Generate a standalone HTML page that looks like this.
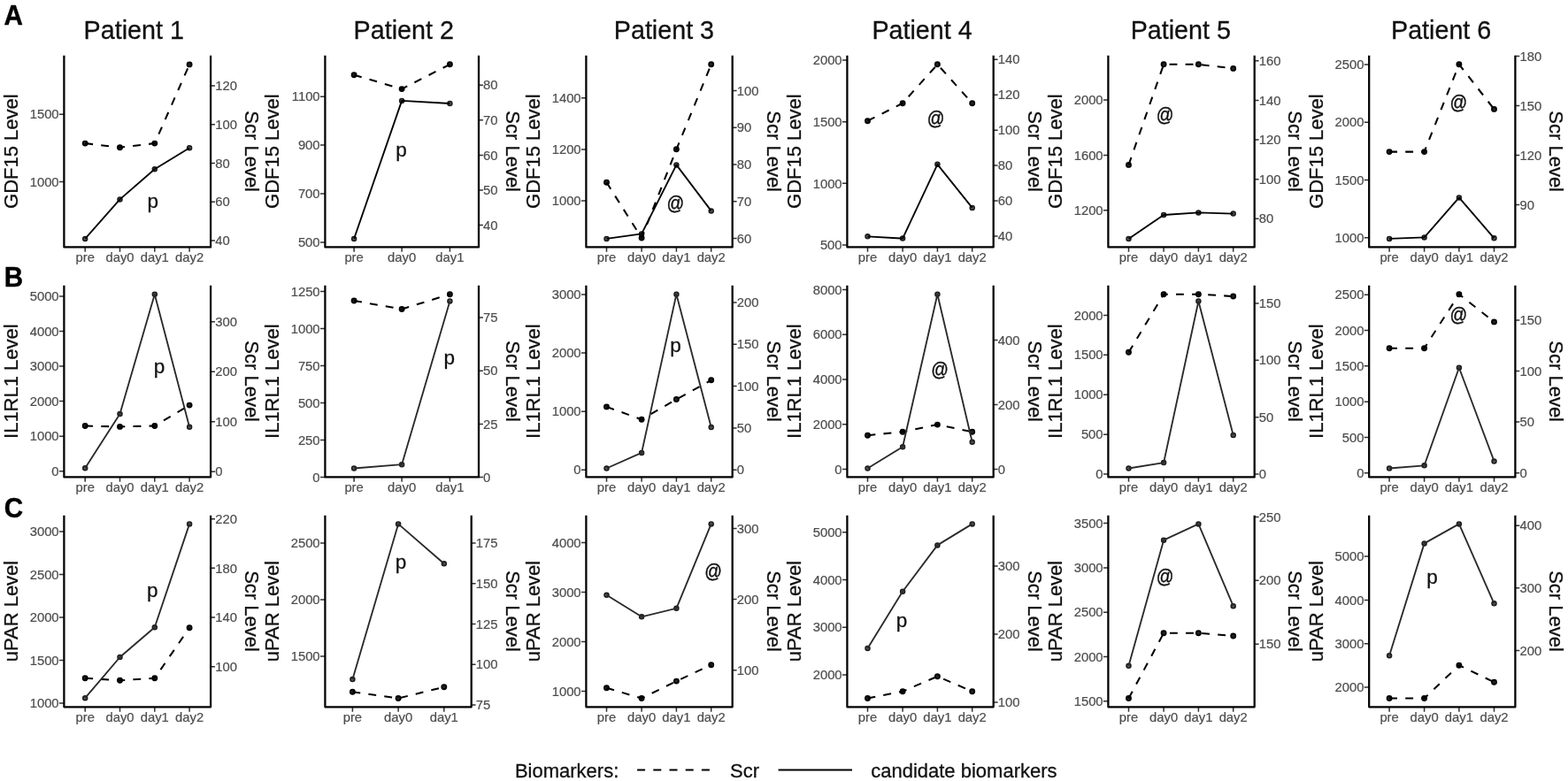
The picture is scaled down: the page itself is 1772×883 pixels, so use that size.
<!DOCTYPE html>
<html lang="en"><head><meta charset="utf-8"><title>Biomarkers figure</title>
<style>html,body{margin:0;padding:0;background:#fff}body{width:1772px;height:883px;overflow:hidden}svg{display:block}text{font-family:"Liberation Sans", Arial, sans-serif}.tk{font-size:14.8px;fill:#4d4d4d;stroke:#4d4d4d;stroke-width:.2}.ti{font-size:28.7px;fill:#111;stroke:#111;stroke-width:.3}.ax{font-size:22.0px;fill:#111;stroke:#111;stroke-width:.3}.pp{font-size:22.5px;fill:#111;stroke:#111;stroke-width:.3}.at{font-size:19.4px;fill:#111;stroke:#111;stroke-width:.4}.lg{font-size:22.0px;fill:#111;stroke:#111;stroke-width:.3}.lb{font-size:29.6px;font-weight:bold;fill:#000;stroke:#000;stroke-width:.4}.axl{stroke:#000;stroke-width:2.25;fill:none;stroke-linejoin:round;stroke-linecap:butt}.tm{stroke:#333;stroke-width:1.5;fill:none}.sl{stroke-width:1.85;fill:none;stroke-linejoin:round}.dl{stroke:#000;stroke-width:2.05;fill:none;stroke-dasharray:8.9 9.2;stroke-linejoin:round}.ps{fill:#5a5a5a;stroke:#1c1c1c;stroke-width:1.6}.pd{fill:#222;stroke:#000;stroke-width:1.7}</style></head><body>
<svg width="1772" height="883" viewBox="0 0 1772 883">
<rect width="1772" height="883" fill="#fff"/>
<text class="lb" transform="translate(4.5 27.5) scale(1 1.04)">A</text>
<text class="lb" transform="translate(4.65 324) scale(1 1.04)">B</text>
<text class="lb" transform="translate(4.7 584.8) scale(1 1.04)">C</text>
<text class="ti" x="94.6" y="44">Patient 1</text>
<text class="ti" x="399.6" y="44">Patient 2</text>
<text class="ti" x="693.8" y="44">Patient 3</text>
<text class="ti" x="985.4" y="44">Patient 4</text>
<text class="ti" x="1277.7" y="44">Patient 5</text>
<text class="ti" x="1572" y="44">Patient 6</text>
<g>
<text class="ax" text-anchor="middle" transform="translate(20.4 171.15) rotate(-90) scale(1 1.03)">GDF15 Level</text>
<text class="ax" text-anchor="middle" transform="translate(276.8 171.15) rotate(90) scale(1 1.03)">Scr Level</text>
<text class="tk" text-anchor="end" x="66.6" y="134.44">1500</text>
<text class="tk" text-anchor="end" x="66.6" y="210.64">1000</text>
<text class="tk" x="243.2" y="102.14">120</text>
<text class="tk" x="243.2" y="145.86">100</text>
<text class="tk" x="243.2" y="189.59">80</text>
<text class="tk" x="243.2" y="233.31">60</text>
<text class="tk" x="243.2" y="277.04">40</text>
<text class="tk" text-anchor="middle" x="96.2" y="295.65">pre</text>
<text class="tk" text-anchor="middle" x="135.5" y="295.65">day0</text>
<text class="tk" text-anchor="middle" x="174.8" y="295.65">day1</text>
<text class="tk" text-anchor="middle" x="214.1" y="295.65">day2</text>
<path class="tm" d="M66.9 129.3H72.4M66.9 205.5H72.4M238.1 97H243M238.1 140.72H243M238.1 184.45H243M238.1 228.17H243M238.1 271.9H243M96.2 279.45V284.85M135.5 279.45V284.85M174.8 279.45V284.85M214.1 279.45V284.85"/>
<circle class="ps" cx="96.2" cy="269.9" r="2.45"/>
<circle class="ps" cx="135.5" cy="225.4" r="2.45"/>
<circle class="ps" cx="174.8" cy="191.3" r="2.45"/>
<circle class="ps" cx="214.1" cy="167.2" r="2.45"/>
<circle class="pd" cx="96.2" cy="162.1" r="2.6"/>
<circle class="pd" cx="135.5" cy="166.7" r="2.6"/>
<circle class="pd" cx="174.8" cy="162.1" r="2.6"/>
<circle class="pd" cx="214.1" cy="72.9" r="2.6"/>
<polyline class="dl" points="96.2,162.1 135.5,166.7 174.8,162.1 214.1,72.9"/>
<polyline class="sl" stroke="#000" points="96.2,269.9 135.5,225.4 174.8,191.3 214.1,167.2"/>
<path class="axl" d="M72.4 62.85V279.45H238.1V62.85"/>
<text class="pp" text-anchor="middle" x="172.8" y="235.4">p</text>
</g>
<g>
<text class="ax" text-anchor="middle" transform="translate(315.3 171.15) rotate(-90) scale(1 1.03)">GDF15 Level</text>
<text class="ax" text-anchor="middle" transform="translate(571.7 171.15) rotate(90) scale(1 1.03)">Scr Level</text>
<text class="tk" text-anchor="end" x="361.6" y="114.34">1100</text>
<text class="tk" text-anchor="end" x="361.6" y="169.24">900</text>
<text class="tk" text-anchor="end" x="361.6" y="224.14">700</text>
<text class="tk" text-anchor="end" x="361.6" y="279.04">500</text>
<text class="tk" x="546.1" y="101.34">80</text>
<text class="tk" x="546.1" y="140.94">70</text>
<text class="tk" x="546.1" y="180.54">60</text>
<text class="tk" x="546.1" y="220.14">50</text>
<text class="tk" x="546.1" y="259.74">40</text>
<text class="tk" text-anchor="middle" x="400.1" y="295.65">pre</text>
<text class="tk" text-anchor="middle" x="454.1" y="295.65">day0</text>
<text class="tk" text-anchor="middle" x="508.4" y="295.65">day1</text>
<path class="tm" d="M361.9 109.2H367.4M361.9 164.1H367.4M361.9 219H367.4M361.9 273.9H367.4M541 96.2H545.9M541 135.8H545.9M541 175.4H545.9M541 215H545.9M541 254.6H545.9M400.1 279.45V284.85M454.1 279.45V284.85M508.4 279.45V284.85"/>
<circle class="ps" cx="400.1" cy="269.9" r="2.45"/>
<circle class="ps" cx="454.1" cy="113.9" r="2.45"/>
<circle class="ps" cx="508.4" cy="117" r="2.45"/>
<circle class="pd" cx="400.1" cy="84.7" r="2.6"/>
<circle class="pd" cx="454.1" cy="100.6" r="2.6"/>
<circle class="pd" cx="508.4" cy="72.8" r="2.6"/>
<polyline class="dl" points="400.1,84.7 454.1,100.6 508.4,72.8"/>
<polyline class="sl" stroke="#000" points="400.1,269.9 454.1,113.9 508.4,117"/>
<path class="axl" d="M367.4 62.85V279.45H541V62.85"/>
<text class="pp" text-anchor="middle" x="453.6" y="177.1">p</text>
</g>
<g>
<text class="ax" text-anchor="middle" transform="translate(610.2 171.15) rotate(-90) scale(1 1.03)">GDF15 Level</text>
<text class="ax" text-anchor="middle" transform="translate(866.6 171.15) rotate(90) scale(1 1.03)">Scr Level</text>
<text class="tk" text-anchor="end" x="656.6" y="115.84">1400</text>
<text class="tk" text-anchor="end" x="656.6" y="174.04">1200</text>
<text class="tk" text-anchor="end" x="656.6" y="232.24">1000</text>
<text class="tk" x="832.8" y="107.74">100</text>
<text class="tk" x="832.8" y="149.49">90</text>
<text class="tk" x="832.8" y="191.24">80</text>
<text class="tk" x="832.8" y="232.99">70</text>
<text class="tk" x="832.8" y="274.74">60</text>
<text class="tk" text-anchor="middle" x="685.5" y="295.65">pre</text>
<text class="tk" text-anchor="middle" x="725.1" y="295.65">day0</text>
<text class="tk" text-anchor="middle" x="764.4" y="295.65">day1</text>
<text class="tk" text-anchor="middle" x="803.7" y="295.65">day2</text>
<path class="tm" d="M656.9 110.7H662.4M656.9 168.9H662.4M656.9 227.1H662.4M827.7 102.6H832.6M827.7 144.35H832.6M827.7 186.1H832.6M827.7 227.85H832.6M827.7 269.6H832.6M685.5 279.45V284.85M725.1 279.45V284.85M764.4 279.45V284.85M803.7 279.45V284.85"/>
<circle class="ps" cx="685.5" cy="269.9" r="2.45"/>
<circle class="ps" cx="725.1" cy="264.4" r="2.45"/>
<circle class="ps" cx="764.4" cy="186.4" r="2.45"/>
<circle class="ps" cx="803.7" cy="238.4" r="2.45"/>
<circle class="pd" cx="685.5" cy="206.3" r="2.6"/>
<circle class="pd" cx="725.1" cy="269" r="2.6"/>
<circle class="pd" cx="764.4" cy="168.8" r="2.6"/>
<circle class="pd" cx="803.7" cy="72.8" r="2.6"/>
<polyline class="dl" points="685.5,206.3 725.1,269 764.4,168.8 803.7,72.8"/>
<polyline class="sl" stroke="#000" points="685.5,269.9 725.1,264.4 764.4,186.4 803.7,238.4"/>
<path class="axl" d="M662.4 62.85V279.45H827.7V62.85"/>
<text class="at" text-anchor="middle" transform="translate(763.3 231.1) scale(1 1.11)" y="5.66">@</text>
</g>
<g>
<text class="ax" text-anchor="middle" transform="translate(905.1 171.15) rotate(-90) scale(1 1.03)">GDF15 Level</text>
<text class="ax" text-anchor="middle" transform="translate(1161.5 171.15) rotate(90) scale(1 1.03)">Scr Level</text>
<text class="tk" text-anchor="end" x="951.6" y="73.04">2000</text>
<text class="tk" text-anchor="end" x="951.6" y="142.77">1500</text>
<text class="tk" text-anchor="end" x="951.6" y="212.5">1000</text>
<text class="tk" text-anchor="end" x="951.6" y="282.24">500</text>
<text class="tk" x="1127.8" y="72.44">140</text>
<text class="tk" x="1127.8" y="112.38">120</text>
<text class="tk" x="1127.8" y="152.32">100</text>
<text class="tk" x="1127.8" y="192.26">80</text>
<text class="tk" x="1127.8" y="232.2">60</text>
<text class="tk" x="1127.8" y="272.14">40</text>
<text class="tk" text-anchor="middle" x="980.5" y="295.65">pre</text>
<text class="tk" text-anchor="middle" x="1020.1" y="295.65">day0</text>
<text class="tk" text-anchor="middle" x="1059.4" y="295.65">day1</text>
<text class="tk" text-anchor="middle" x="1098.7" y="295.65">day2</text>
<path class="tm" d="M951.9 67.9H957.4M951.9 137.63H957.4M951.9 207.37H957.4M951.9 277.1H957.4M1122.7 67.3H1127.6M1122.7 107.24H1127.6M1122.7 147.18H1127.6M1122.7 187.12H1127.6M1122.7 227.06H1127.6M1122.7 267H1127.6M980.5 279.45V284.85M1020.1 279.45V284.85M1059.4 279.45V284.85M1098.7 279.45V284.85"/>
<circle class="ps" cx="980.5" cy="267.3" r="2.45"/>
<circle class="ps" cx="1020.1" cy="269.6" r="2.45"/>
<circle class="ps" cx="1059.4" cy="185.8" r="2.45"/>
<circle class="ps" cx="1098.7" cy="234.9" r="2.45"/>
<circle class="pd" cx="980.5" cy="136.7" r="2.6"/>
<circle class="pd" cx="1020.1" cy="116.7" r="2.6"/>
<circle class="pd" cx="1059.4" cy="72.8" r="2.6"/>
<circle class="pd" cx="1098.7" cy="116.7" r="2.6"/>
<polyline class="dl" points="980.5,136.7 1020.1,116.7 1059.4,72.8 1098.7,116.7"/>
<polyline class="sl" stroke="#000" points="980.5,267.3 1020.1,269.6 1059.4,185.8 1098.7,234.9"/>
<path class="axl" d="M957.4 62.85V279.45H1122.7V62.85"/>
<text class="at" text-anchor="middle" transform="translate(1057.7 134.4) scale(1 1.11)" y="5.66">@</text>
</g>
<g>
<text class="ax" text-anchor="middle" transform="translate(1200 171.15) rotate(-90) scale(1 1.03)">GDF15 Level</text>
<text class="ax" text-anchor="middle" transform="translate(1456.4 171.15) rotate(90) scale(1 1.03)">Scr Level</text>
<text class="tk" text-anchor="end" x="1246.6" y="118.14">2000</text>
<text class="tk" text-anchor="end" x="1246.6" y="180.54">1600</text>
<text class="tk" text-anchor="end" x="1246.6" y="242.94">1200</text>
<text class="tk" x="1422.8" y="73.94">160</text>
<text class="tk" x="1422.8" y="118.56">140</text>
<text class="tk" x="1422.8" y="163.19">120</text>
<text class="tk" x="1422.8" y="207.81">100</text>
<text class="tk" x="1422.8" y="252.44">80</text>
<text class="tk" text-anchor="middle" x="1275.5" y="295.65">pre</text>
<text class="tk" text-anchor="middle" x="1315.1" y="295.65">day0</text>
<text class="tk" text-anchor="middle" x="1354.4" y="295.65">day1</text>
<text class="tk" text-anchor="middle" x="1393.7" y="295.65">day2</text>
<path class="tm" d="M1246.9 113H1252.4M1246.9 175.4H1252.4M1246.9 237.8H1252.4M1417.7 68.8H1422.6M1417.7 113.42H1422.6M1417.7 158.05H1422.6M1417.7 202.68H1422.6M1417.7 247.3H1422.6M1275.5 279.45V284.85M1315.1 279.45V284.85M1354.4 279.45V284.85M1393.7 279.45V284.85"/>
<circle class="ps" cx="1275.5" cy="269.9" r="2.45"/>
<circle class="ps" cx="1315.1" cy="243" r="2.45"/>
<circle class="ps" cx="1354.4" cy="240.4" r="2.45"/>
<circle class="ps" cx="1393.7" cy="241.6" r="2.45"/>
<circle class="pd" cx="1275.5" cy="186.4" r="2.6"/>
<circle class="pd" cx="1315.1" cy="72.8" r="2.6"/>
<circle class="pd" cx="1354.4" cy="72.8" r="2.6"/>
<circle class="pd" cx="1393.7" cy="77.4" r="2.6"/>
<polyline class="dl" points="1275.5,186.4 1315.1,72.8 1354.4,72.8 1393.7,77.4"/>
<polyline class="sl" stroke="#000" points="1275.5,269.9 1315.1,243 1354.4,240.4 1393.7,241.6"/>
<path class="axl" d="M1252.4 62.85V279.45H1417.7V62.85"/>
<text class="at" text-anchor="middle" transform="translate(1316.6 130.9) scale(1 1.11)" y="5.66">@</text>
</g>
<g>
<text class="ax" text-anchor="middle" transform="translate(1494.9 171.15) rotate(-90) scale(1 1.03)">GDF15 Level</text>
<text class="ax" text-anchor="middle" transform="translate(1751.3 171.15) rotate(90) scale(1 1.03)">Scr Level</text>
<text class="tk" text-anchor="end" x="1541.4" y="78.24">2500</text>
<text class="tk" text-anchor="end" x="1541.4" y="143.44">2000</text>
<text class="tk" text-anchor="end" x="1541.4" y="208.64">1500</text>
<text class="tk" text-anchor="end" x="1541.4" y="273.84">1000</text>
<text class="tk" x="1717.5" y="68.74">180</text>
<text class="tk" x="1717.5" y="124.67">150</text>
<text class="tk" x="1717.5" y="180.6">120</text>
<text class="tk" x="1717.5" y="236.54">90</text>
<text class="tk" text-anchor="middle" x="1570.1" y="295.65">pre</text>
<text class="tk" text-anchor="middle" x="1609.6" y="295.65">day0</text>
<text class="tk" text-anchor="middle" x="1648.9" y="295.65">day1</text>
<text class="tk" text-anchor="middle" x="1688.5" y="295.65">day2</text>
<path class="tm" d="M1541.7 73.1H1547.2M1541.7 138.3H1547.2M1541.7 203.5H1547.2M1541.7 268.7H1547.2M1712.4 63.6H1717.3M1712.4 119.53H1717.3M1712.4 175.47H1717.3M1712.4 231.4H1717.3M1570.1 279.45V284.85M1609.6 279.45V284.85M1648.9 279.45V284.85M1688.5 279.45V284.85"/>
<circle class="ps" cx="1570.1" cy="269.9" r="2.45"/>
<circle class="ps" cx="1609.6" cy="268.4" r="2.45"/>
<circle class="ps" cx="1648.9" cy="223.4" r="2.45"/>
<circle class="ps" cx="1688.5" cy="269.3" r="2.45"/>
<circle class="pd" cx="1570.1" cy="171.6" r="2.6"/>
<circle class="pd" cx="1609.6" cy="171.6" r="2.6"/>
<circle class="pd" cx="1648.9" cy="72.8" r="2.6"/>
<circle class="pd" cx="1688.5" cy="123.4" r="2.6"/>
<polyline class="dl" points="1570.1,171.6 1609.6,171.6 1648.9,72.8 1688.5,123.4"/>
<polyline class="sl" stroke="#000" points="1570.1,269.9 1609.6,268.4 1648.9,223.4 1688.5,269.3"/>
<path class="axl" d="M1547.2 62.85V279.45H1712.4V62.85"/>
<text class="at" text-anchor="middle" transform="translate(1648.4 117) scale(1 1.11)" y="5.66">@</text>
</g>
<g>
<text class="ax" text-anchor="middle" transform="translate(20.4 431.15) rotate(-90) scale(1 1.03)">IL1RL1 Level</text>
<text class="ax" text-anchor="middle" transform="translate(276.8 431.15) rotate(90) scale(1 1.03)">Scr Level</text>
<text class="tk" text-anchor="end" x="66.6" y="340.14">5000</text>
<text class="tk" text-anchor="end" x="66.6" y="379.68">4000</text>
<text class="tk" text-anchor="end" x="66.6" y="419.22">3000</text>
<text class="tk" text-anchor="end" x="66.6" y="458.76">2000</text>
<text class="tk" text-anchor="end" x="66.6" y="498.3">1000</text>
<text class="tk" text-anchor="end" x="66.6" y="537.84">0</text>
<text class="tk" x="243.2" y="368.84">300</text>
<text class="tk" x="243.2" y="425.37">200</text>
<text class="tk" x="243.2" y="481.9">100</text>
<text class="tk" x="243.2" y="538.44">0</text>
<text class="tk" text-anchor="middle" x="96.2" y="555.65">pre</text>
<text class="tk" text-anchor="middle" x="135.5" y="555.65">day0</text>
<text class="tk" text-anchor="middle" x="174.8" y="555.65">day1</text>
<text class="tk" text-anchor="middle" x="214.1" y="555.65">day2</text>
<path class="tm" d="M66.9 335H72.4M66.9 374.54H72.4M66.9 414.08H72.4M66.9 453.62H72.4M66.9 493.16H72.4M66.9 532.7H72.4M238.1 363.7H243M238.1 420.23H243M238.1 476.77H243M238.1 533.3H243M96.2 539.45V544.85M135.5 539.45V544.85M174.8 539.45V544.85M214.1 539.45V544.85"/>
<circle class="ps" cx="96.2" cy="529.2" r="2.45"/>
<circle class="ps" cx="135.5" cy="468" r="2.45"/>
<circle class="ps" cx="174.8" cy="332.7" r="2.45"/>
<circle class="ps" cx="214.1" cy="482.7" r="2.45"/>
<circle class="pd" cx="96.2" cy="481.5" r="2.6"/>
<circle class="pd" cx="135.5" cy="482.4" r="2.6"/>
<circle class="pd" cx="174.8" cy="481.5" r="2.6"/>
<circle class="pd" cx="214.1" cy="458.1" r="2.6"/>
<polyline class="dl" points="96.2,481.5 135.5,482.4 174.8,481.5 214.1,458.1"/>
<polyline class="sl" stroke="#2a2a2a" points="96.2,529.2 135.5,468 174.8,332.7 214.1,482.7"/>
<path class="axl" d="M72.4 322.85V539.45H238.1V322.85"/>
<text class="pp" text-anchor="middle" x="180.1" y="422">p</text>
</g>
<g>
<text class="ax" text-anchor="middle" transform="translate(315.3 431.15) rotate(-90) scale(1 1.03)">IL1RL1 Level</text>
<text class="ax" text-anchor="middle" transform="translate(571.7 431.15) rotate(90) scale(1 1.03)">Scr Level</text>
<text class="tk" text-anchor="end" x="361.6" y="334.74">1250</text>
<text class="tk" text-anchor="end" x="361.6" y="376.74">1000</text>
<text class="tk" text-anchor="end" x="361.6" y="418.74">750</text>
<text class="tk" text-anchor="end" x="361.6" y="460.74">500</text>
<text class="tk" text-anchor="end" x="361.6" y="502.74">250</text>
<text class="tk" text-anchor="end" x="361.6" y="544.74">0</text>
<text class="tk" x="546.1" y="364.14">75</text>
<text class="tk" x="546.1" y="424.34">50</text>
<text class="tk" x="546.1" y="484.54">25</text>
<text class="tk" x="546.1" y="544.74">0</text>
<text class="tk" text-anchor="middle" x="400.1" y="555.65">pre</text>
<text class="tk" text-anchor="middle" x="454.1" y="555.65">day0</text>
<text class="tk" text-anchor="middle" x="508.4" y="555.65">day1</text>
<path class="tm" d="M361.9 329.6H367.4M361.9 371.6H367.4M361.9 413.6H367.4M361.9 455.6H367.4M361.9 497.6H367.4M361.9 539.6H367.4M541 359H545.9M541 419.2H545.9M541 479.4H545.9M541 539.6H545.9M400.1 539.45V544.85M454.1 539.45V544.85M508.4 539.45V544.85"/>
<circle class="ps" cx="400.1" cy="529.5" r="2.45"/>
<circle class="ps" cx="454.1" cy="525.2" r="2.45"/>
<circle class="ps" cx="508.4" cy="340.5" r="2.45"/>
<circle class="pd" cx="400.1" cy="340" r="2.6"/>
<circle class="pd" cx="454.1" cy="349.5" r="2.6"/>
<circle class="pd" cx="508.4" cy="332.7" r="2.6"/>
<polyline class="dl" points="400.1,340 454.1,349.5 508.4,332.7"/>
<polyline class="sl" stroke="#2a2a2a" points="400.1,529.5 454.1,525.2 508.4,340.5"/>
<path class="axl" d="M367.4 322.85V539.45H541V322.85"/>
<text class="pp" text-anchor="middle" x="507.7" y="411.9">p</text>
</g>
<g>
<text class="ax" text-anchor="middle" transform="translate(610.2 431.15) rotate(-90) scale(1 1.03)">IL1RL1 Level</text>
<text class="ax" text-anchor="middle" transform="translate(866.6 431.15) rotate(90) scale(1 1.03)">Scr Level</text>
<text class="tk" text-anchor="end" x="656.6" y="338.14">3000</text>
<text class="tk" text-anchor="end" x="656.6" y="404.2">2000</text>
<text class="tk" text-anchor="end" x="656.6" y="470.27">1000</text>
<text class="tk" text-anchor="end" x="656.6" y="536.34">0</text>
<text class="tk" x="832.8" y="347.14">200</text>
<text class="tk" x="832.8" y="394.44">150</text>
<text class="tk" x="832.8" y="441.74">100</text>
<text class="tk" x="832.8" y="489.04">50</text>
<text class="tk" x="832.8" y="536.34">0</text>
<text class="tk" text-anchor="middle" x="685.5" y="555.65">pre</text>
<text class="tk" text-anchor="middle" x="725.1" y="555.65">day0</text>
<text class="tk" text-anchor="middle" x="764.4" y="555.65">day1</text>
<text class="tk" text-anchor="middle" x="803.7" y="555.65">day2</text>
<path class="tm" d="M656.9 333H662.4M656.9 399.07H662.4M656.9 465.13H662.4M656.9 531.2H662.4M827.7 342H832.6M827.7 389.3H832.6M827.7 436.6H832.6M827.7 483.9H832.6M827.7 531.2H832.6M685.5 539.45V544.85M725.1 539.45V544.85M764.4 539.45V544.85M803.7 539.45V544.85"/>
<circle class="ps" cx="685.5" cy="529.5" r="2.45"/>
<circle class="ps" cx="725.1" cy="511.9" r="2.45"/>
<circle class="ps" cx="764.4" cy="332.7" r="2.45"/>
<circle class="ps" cx="803.7" cy="483" r="2.45"/>
<circle class="pd" cx="685.5" cy="459.9" r="2.6"/>
<circle class="pd" cx="725.1" cy="474.3" r="2.6"/>
<circle class="pd" cx="764.4" cy="451.5" r="2.6"/>
<circle class="pd" cx="803.7" cy="429.8" r="2.6"/>
<polyline class="dl" points="685.5,459.9 725.1,474.3 764.4,451.5 803.7,429.8"/>
<polyline class="sl" stroke="#2a2a2a" points="685.5,529.5 725.1,511.9 764.4,332.7 803.7,483"/>
<path class="axl" d="M662.4 322.85V539.45H827.7V322.85"/>
<text class="pp" text-anchor="middle" x="763.4" y="397.5">p</text>
</g>
<g>
<text class="ax" text-anchor="middle" transform="translate(905.1 431.15) rotate(-90) scale(1 1.03)">IL1RL1 Level</text>
<text class="ax" text-anchor="middle" transform="translate(1161.5 431.15) rotate(90) scale(1 1.03)">Scr Level</text>
<text class="tk" text-anchor="end" x="951.6" y="332.64">8000</text>
<text class="tk" text-anchor="end" x="951.6" y="383.36">6000</text>
<text class="tk" text-anchor="end" x="951.6" y="434.09">4000</text>
<text class="tk" text-anchor="end" x="951.6" y="484.81">2000</text>
<text class="tk" text-anchor="end" x="951.6" y="535.54">0</text>
<text class="tk" x="1127.8" y="389.64">400</text>
<text class="tk" x="1127.8" y="462.59">200</text>
<text class="tk" x="1127.8" y="535.54">0</text>
<text class="tk" text-anchor="middle" x="980.5" y="555.65">pre</text>
<text class="tk" text-anchor="middle" x="1020.1" y="555.65">day0</text>
<text class="tk" text-anchor="middle" x="1059.4" y="555.65">day1</text>
<text class="tk" text-anchor="middle" x="1098.7" y="555.65">day2</text>
<path class="tm" d="M951.9 327.5H957.4M951.9 378.23H957.4M951.9 428.95H957.4M951.9 479.67H957.4M951.9 530.4H957.4M1122.7 384.5H1127.6M1122.7 457.45H1127.6M1122.7 530.4H1127.6M980.5 539.45V544.85M1020.1 539.45V544.85M1059.4 539.45V544.85M1098.7 539.45V544.85"/>
<circle class="ps" cx="980.5" cy="529.5" r="2.45"/>
<circle class="ps" cx="1020.1" cy="505.2" r="2.45"/>
<circle class="ps" cx="1059.4" cy="332.7" r="2.45"/>
<circle class="ps" cx="1098.7" cy="499.7" r="2.45"/>
<circle class="pd" cx="980.5" cy="492.2" r="2.6"/>
<circle class="pd" cx="1020.1" cy="488.2" r="2.6"/>
<circle class="pd" cx="1059.4" cy="480.1" r="2.6"/>
<circle class="pd" cx="1098.7" cy="488.2" r="2.6"/>
<polyline class="dl" points="980.5,492.2 1020.1,488.2 1059.4,480.1 1098.7,488.2"/>
<polyline class="sl" stroke="#2a2a2a" points="980.5,529.5 1020.1,505.2 1059.4,332.7 1098.7,499.7"/>
<path class="axl" d="M957.4 322.85V539.45H1122.7V322.85"/>
<text class="at" text-anchor="middle" transform="translate(1062 418.3) scale(1 1.11)" y="5.66">@</text>
</g>
<g>
<text class="ax" text-anchor="middle" transform="translate(1200 431.15) rotate(-90) scale(1 1.03)">IL1RL1 Level</text>
<text class="ax" text-anchor="middle" transform="translate(1456.4 431.15) rotate(90) scale(1 1.03)">Scr Level</text>
<text class="tk" text-anchor="end" x="1246.6" y="361.54">2000</text>
<text class="tk" text-anchor="end" x="1246.6" y="406.46">1500</text>
<text class="tk" text-anchor="end" x="1246.6" y="451.39">1000</text>
<text class="tk" text-anchor="end" x="1246.6" y="496.31">500</text>
<text class="tk" text-anchor="end" x="1246.6" y="541.24">0</text>
<text class="tk" x="1422.8" y="348.04">150</text>
<text class="tk" x="1422.8" y="412.44">100</text>
<text class="tk" x="1422.8" y="476.84">50</text>
<text class="tk" x="1422.8" y="541.24">0</text>
<text class="tk" text-anchor="middle" x="1275.5" y="555.65">pre</text>
<text class="tk" text-anchor="middle" x="1315.1" y="555.65">day0</text>
<text class="tk" text-anchor="middle" x="1354.4" y="555.65">day1</text>
<text class="tk" text-anchor="middle" x="1393.7" y="555.65">day2</text>
<path class="tm" d="M1246.9 356.4H1252.4M1246.9 401.32H1252.4M1246.9 446.25H1252.4M1246.9 491.18H1252.4M1246.9 536.1H1252.4M1417.7 342.9H1422.6M1417.7 407.3H1422.6M1417.7 471.7H1422.6M1417.7 536.1H1422.6M1275.5 539.45V544.85M1315.1 539.45V544.85M1354.4 539.45V544.85M1393.7 539.45V544.85"/>
<circle class="ps" cx="1275.5" cy="529.5" r="2.45"/>
<circle class="ps" cx="1315.1" cy="523.1" r="2.45"/>
<circle class="ps" cx="1354.4" cy="340.5" r="2.45"/>
<circle class="ps" cx="1393.7" cy="491.9" r="2.45"/>
<circle class="pd" cx="1275.5" cy="398.3" r="2.6"/>
<circle class="pd" cx="1315.1" cy="332.7" r="2.6"/>
<circle class="pd" cx="1354.4" cy="332.7" r="2.6"/>
<circle class="pd" cx="1393.7" cy="335" r="2.6"/>
<polyline class="dl" points="1275.5,398.3 1315.1,332.7 1354.4,332.7 1393.7,335"/>
<polyline class="sl" stroke="#2a2a2a" points="1275.5,529.5 1315.1,523.1 1354.4,340.5 1393.7,491.9"/>
<path class="axl" d="M1252.4 322.85V539.45H1417.7V322.85"/>
</g>
<g>
<text class="ax" text-anchor="middle" transform="translate(1494.9 431.15) rotate(-90) scale(1 1.03)">IL1RL1 Level</text>
<text class="ax" text-anchor="middle" transform="translate(1751.3 431.15) rotate(90) scale(1 1.03)">Scr Level</text>
<text class="tk" text-anchor="end" x="1541.4" y="338.44">2500</text>
<text class="tk" text-anchor="end" x="1541.4" y="378.72">2000</text>
<text class="tk" text-anchor="end" x="1541.4" y="419">1500</text>
<text class="tk" text-anchor="end" x="1541.4" y="459.28">1000</text>
<text class="tk" text-anchor="end" x="1541.4" y="499.56">500</text>
<text class="tk" text-anchor="end" x="1541.4" y="539.84">0</text>
<text class="tk" x="1717.5" y="367.04">150</text>
<text class="tk" x="1717.5" y="424.64">100</text>
<text class="tk" x="1717.5" y="482.24">50</text>
<text class="tk" x="1717.5" y="539.84">0</text>
<text class="tk" text-anchor="middle" x="1570.1" y="555.65">pre</text>
<text class="tk" text-anchor="middle" x="1609.6" y="555.65">day0</text>
<text class="tk" text-anchor="middle" x="1648.9" y="555.65">day1</text>
<text class="tk" text-anchor="middle" x="1688.5" y="555.65">day2</text>
<path class="tm" d="M1541.7 333.3H1547.2M1541.7 373.58H1547.2M1541.7 413.86H1547.2M1541.7 454.14H1547.2M1541.7 494.42H1547.2M1541.7 534.7H1547.2M1712.4 361.9H1717.3M1712.4 419.5H1717.3M1712.4 477.1H1717.3M1712.4 534.7H1717.3M1570.1 539.45V544.85M1609.6 539.45V544.85M1648.9 539.45V544.85M1688.5 539.45V544.85"/>
<circle class="ps" cx="1570.1" cy="529.5" r="2.45"/>
<circle class="ps" cx="1609.6" cy="526.3" r="2.45"/>
<circle class="ps" cx="1648.9" cy="415.7" r="2.45"/>
<circle class="ps" cx="1688.5" cy="521.4" r="2.45"/>
<circle class="pd" cx="1570.1" cy="393.7" r="2.6"/>
<circle class="pd" cx="1609.6" cy="393.7" r="2.6"/>
<circle class="pd" cx="1648.9" cy="332.7" r="2.6"/>
<circle class="pd" cx="1688.5" cy="363.9" r="2.6"/>
<polyline class="dl" points="1570.1,393.7 1609.6,393.7 1648.9,332.7 1688.5,363.9"/>
<polyline class="sl" stroke="#2a2a2a" points="1570.1,529.5 1609.6,526.3 1648.9,415.7 1688.5,521.4"/>
<path class="axl" d="M1547.2 322.85V539.45H1712.4V322.85"/>
<text class="at" text-anchor="middle" transform="translate(1648.4 357) scale(1 1.11)" y="5.66">@</text>
</g>
<g>
<text class="ax" text-anchor="middle" transform="translate(20.4 691.02) rotate(-90) scale(1 1.03)">uPAR Level</text>
<text class="ax" text-anchor="middle" transform="translate(276.8 691.02) rotate(90) scale(1 1.03)">Scr Level</text>
<text class="tk" text-anchor="end" x="66.6" y="606.24">3000</text>
<text class="tk" text-anchor="end" x="66.6" y="654.71">2500</text>
<text class="tk" text-anchor="end" x="66.6" y="703.19">2000</text>
<text class="tk" text-anchor="end" x="66.6" y="751.66">1500</text>
<text class="tk" text-anchor="end" x="66.6" y="800.14">1000</text>
<text class="tk" x="243.2" y="591.84">220</text>
<text class="tk" x="243.2" y="647.5">180</text>
<text class="tk" x="243.2" y="703.17">140</text>
<text class="tk" x="243.2" y="758.84">100</text>
<text class="tk" text-anchor="middle" x="96.2" y="815.5">pre</text>
<text class="tk" text-anchor="middle" x="135.5" y="815.5">day0</text>
<text class="tk" text-anchor="middle" x="174.8" y="815.5">day1</text>
<text class="tk" text-anchor="middle" x="214.1" y="815.5">day2</text>
<path class="tm" d="M66.9 601.1H72.4M66.9 649.58H72.4M66.9 698.05H72.4M66.9 746.52H72.4M66.9 795H72.4M238.1 586.7H243M238.1 642.37H243M238.1 698.03H243M238.1 753.7H243M96.2 799.3V804.7M135.5 799.3V804.7M174.8 799.3V804.7M214.1 799.3V804.7"/>
<circle class="ps" cx="96.2" cy="789.2" r="2.45"/>
<circle class="ps" cx="135.5" cy="743" r="2.45"/>
<circle class="ps" cx="174.8" cy="709.2" r="2.45"/>
<circle class="ps" cx="214.1" cy="592.4" r="2.45"/>
<circle class="pd" cx="96.2" cy="766.7" r="2.6"/>
<circle class="pd" cx="135.5" cy="769.3" r="2.6"/>
<circle class="pd" cx="174.8" cy="766.7" r="2.6"/>
<circle class="pd" cx="214.1" cy="709.8" r="2.6"/>
<polyline class="dl" points="96.2,766.7 135.5,769.3 174.8,766.7 214.1,709.8"/>
<polyline class="sl" stroke="#2a2a2a" points="96.2,789.2 135.5,743 174.8,709.2 214.1,592.4"/>
<path class="axl" d="M72.4 582.75V799.3H238.1V582.75"/>
<text class="pp" text-anchor="middle" x="172.3" y="675.4">p</text>
</g>
<g>
<text class="ax" text-anchor="middle" transform="translate(315.3 691.02) rotate(-90) scale(1 1.03)">uPAR Level</text>
<text class="ax" text-anchor="middle" transform="translate(571.7 691.02) rotate(90) scale(1 1.03)">Scr Level</text>
<text class="tk" text-anchor="end" x="361.6" y="619.24">2500</text>
<text class="tk" text-anchor="end" x="361.6" y="683.24">2000</text>
<text class="tk" text-anchor="end" x="361.6" y="747.24">1500</text>
<text class="tk" x="537.8" y="619.24">175</text>
<text class="tk" x="537.8" y="664.96">150</text>
<text class="tk" x="537.8" y="710.69">125</text>
<text class="tk" x="537.8" y="756.41">100</text>
<text class="tk" x="537.8" y="802.14">75</text>
<text class="tk" text-anchor="middle" x="398.4" y="815.5">pre</text>
<text class="tk" text-anchor="middle" x="450.1" y="815.5">day0</text>
<text class="tk" text-anchor="middle" x="501.8" y="815.5">day1</text>
<path class="tm" d="M361.9 614.1H367.4M361.9 678.1H367.4M361.9 742.1H367.4M532.7 614.1H537.6M532.7 659.83H537.6M532.7 705.55H537.6M532.7 751.27H537.6M532.7 797H537.6M398.4 799.3V804.7M450.1 799.3V804.7M501.8 799.3V804.7"/>
<circle class="ps" cx="398.4" cy="768.1" r="2.45"/>
<circle class="ps" cx="450.1" cy="592.4" r="2.45"/>
<circle class="ps" cx="501.8" cy="637.2" r="2.45"/>
<circle class="pd" cx="398.4" cy="782.3" r="2.6"/>
<circle class="pd" cx="450.1" cy="789.5" r="2.6"/>
<circle class="pd" cx="501.8" cy="776.8" r="2.6"/>
<polyline class="dl" points="398.4,782.3 450.1,789.5 501.8,776.8"/>
<polyline class="sl" stroke="#2a2a2a" points="398.4,768.1 450.1,592.4 501.8,637.2"/>
<path class="axl" d="M367.4 582.75V799.3H532.7V582.75"/>
<text class="pp" text-anchor="middle" x="453.1" y="643">p</text>
</g>
<g>
<text class="ax" text-anchor="middle" transform="translate(610.2 691.02) rotate(-90) scale(1 1.03)">uPAR Level</text>
<text class="ax" text-anchor="middle" transform="translate(866.6 691.02) rotate(90) scale(1 1.03)">Scr Level</text>
<text class="tk" text-anchor="end" x="656.6" y="618.64">4000</text>
<text class="tk" text-anchor="end" x="656.6" y="674.6">3000</text>
<text class="tk" text-anchor="end" x="656.6" y="730.57">2000</text>
<text class="tk" text-anchor="end" x="656.6" y="786.54">1000</text>
<text class="tk" x="832.8" y="602.54">300</text>
<text class="tk" x="832.8" y="682.69">200</text>
<text class="tk" x="832.8" y="762.84">100</text>
<text class="tk" text-anchor="middle" x="685.5" y="815.5">pre</text>
<text class="tk" text-anchor="middle" x="725.1" y="815.5">day0</text>
<text class="tk" text-anchor="middle" x="764.4" y="815.5">day1</text>
<text class="tk" text-anchor="middle" x="803.7" y="815.5">day2</text>
<path class="tm" d="M656.9 613.5H662.4M656.9 669.47H662.4M656.9 725.43H662.4M656.9 781.4H662.4M827.7 597.4H832.6M827.7 677.55H832.6M827.7 757.7H832.6M685.5 799.3V804.7M725.1 799.3V804.7M764.4 799.3V804.7M803.7 799.3V804.7"/>
<circle class="ps" cx="685.5" cy="672.8" r="2.45"/>
<circle class="ps" cx="725.1" cy="697.3" r="2.45"/>
<circle class="ps" cx="764.4" cy="687.8" r="2.45"/>
<circle class="ps" cx="803.7" cy="592.4" r="2.45"/>
<circle class="pd" cx="685.5" cy="777.7" r="2.6"/>
<circle class="pd" cx="725.1" cy="789.5" r="2.6"/>
<circle class="pd" cx="764.4" cy="770.1" r="2.6"/>
<circle class="pd" cx="803.7" cy="751.7" r="2.6"/>
<polyline class="dl" points="685.5,777.7 725.1,789.5 764.4,770.1 803.7,751.7"/>
<polyline class="sl" stroke="#2a2a2a" points="685.5,672.8 725.1,697.3 764.4,687.8 803.7,592.4"/>
<path class="axl" d="M662.4 582.75V799.3H827.7V582.75"/>
<text class="at" text-anchor="middle" transform="translate(806 646.5) scale(1 1.11)" y="5.66">@</text>
</g>
<g>
<text class="ax" text-anchor="middle" transform="translate(905.1 691.02) rotate(-90) scale(1 1.03)">uPAR Level</text>
<text class="ax" text-anchor="middle" transform="translate(1161.5 691.02) rotate(90) scale(1 1.03)">Scr Level</text>
<text class="tk" text-anchor="end" x="951.6" y="606.84">5000</text>
<text class="tk" text-anchor="end" x="951.6" y="660.57">4000</text>
<text class="tk" text-anchor="end" x="951.6" y="714.3">3000</text>
<text class="tk" text-anchor="end" x="951.6" y="768.04">2000</text>
<text class="tk" x="1127.8" y="645.24">300</text>
<text class="tk" x="1127.8" y="722.24">200</text>
<text class="tk" x="1127.8" y="799.24">100</text>
<text class="tk" text-anchor="middle" x="980.5" y="815.5">pre</text>
<text class="tk" text-anchor="middle" x="1020.1" y="815.5">day0</text>
<text class="tk" text-anchor="middle" x="1059.4" y="815.5">day1</text>
<text class="tk" text-anchor="middle" x="1098.7" y="815.5">day2</text>
<path class="tm" d="M951.9 601.7H957.4M951.9 655.43H957.4M951.9 709.17H957.4M951.9 762.9H957.4M1122.7 640.1H1127.6M1122.7 717.1H1127.6M1122.7 794.1H1127.6M980.5 799.3V804.7M1020.1 799.3V804.7M1059.4 799.3V804.7M1098.7 799.3V804.7"/>
<circle class="ps" cx="980.5" cy="732.9" r="2.45"/>
<circle class="ps" cx="1020.1" cy="668.7" r="2.45"/>
<circle class="ps" cx="1059.4" cy="616.4" r="2.45"/>
<circle class="ps" cx="1098.7" cy="592.4" r="2.45"/>
<circle class="pd" cx="980.5" cy="789.5" r="2.6"/>
<circle class="pd" cx="1020.1" cy="781.7" r="2.6"/>
<circle class="pd" cx="1059.4" cy="764.7" r="2.6"/>
<circle class="pd" cx="1098.7" cy="781.7" r="2.6"/>
<polyline class="dl" points="980.5,789.5 1020.1,781.7 1059.4,764.7 1098.7,781.7"/>
<polyline class="sl" stroke="#2a2a2a" points="980.5,732.9 1020.1,668.7 1059.4,616.4 1098.7,592.4"/>
<path class="axl" d="M957.4 582.75V799.3H1122.7V582.75"/>
<text class="pp" text-anchor="middle" x="1019.1" y="708.9">p</text>
</g>
<g>
<text class="ax" text-anchor="middle" transform="translate(1200 691.02) rotate(-90) scale(1 1.03)">uPAR Level</text>
<text class="ax" text-anchor="middle" transform="translate(1456.4 691.02) rotate(90) scale(1 1.03)">Scr Level</text>
<text class="tk" text-anchor="end" x="1246.6" y="596.74">3500</text>
<text class="tk" text-anchor="end" x="1246.6" y="647.01">3000</text>
<text class="tk" text-anchor="end" x="1246.6" y="697.29">2500</text>
<text class="tk" text-anchor="end" x="1246.6" y="747.56">2000</text>
<text class="tk" text-anchor="end" x="1246.6" y="797.84">1500</text>
<text class="tk" x="1422.8" y="589.54">250</text>
<text class="tk" x="1422.8" y="661.44">200</text>
<text class="tk" x="1422.8" y="733.34">150</text>
<text class="tk" text-anchor="middle" x="1275.5" y="815.5">pre</text>
<text class="tk" text-anchor="middle" x="1315.1" y="815.5">day0</text>
<text class="tk" text-anchor="middle" x="1354.4" y="815.5">day1</text>
<text class="tk" text-anchor="middle" x="1393.7" y="815.5">day2</text>
<path class="tm" d="M1246.9 591.6H1252.4M1246.9 641.88H1252.4M1246.9 692.15H1252.4M1246.9 742.43H1252.4M1246.9 792.7H1252.4M1417.7 584.4H1422.6M1417.7 656.3H1422.6M1417.7 728.2H1422.6M1275.5 799.3V804.7M1315.1 799.3V804.7M1354.4 799.3V804.7M1393.7 799.3V804.7"/>
<circle class="ps" cx="1275.5" cy="752.8" r="2.45"/>
<circle class="ps" cx="1315.1" cy="610.7" r="2.45"/>
<circle class="ps" cx="1354.4" cy="592.4" r="2.45"/>
<circle class="ps" cx="1393.7" cy="685.2" r="2.45"/>
<circle class="pd" cx="1275.5" cy="789.5" r="2.6"/>
<circle class="pd" cx="1315.1" cy="715.8" r="2.6"/>
<circle class="pd" cx="1354.4" cy="715.8" r="2.6"/>
<circle class="pd" cx="1393.7" cy="719" r="2.6"/>
<polyline class="dl" points="1275.5,789.5 1315.1,715.8 1354.4,715.8 1393.7,719"/>
<polyline class="sl" stroke="#2a2a2a" points="1275.5,752.8 1315.1,610.7 1354.4,592.4 1393.7,685.2"/>
<path class="axl" d="M1252.4 582.75V799.3H1417.7V582.75"/>
<text class="at" text-anchor="middle" transform="translate(1316.6 653.1) scale(1 1.11)" y="5.66">@</text>
</g>
<g>
<text class="ax" text-anchor="middle" transform="translate(1494.9 691.02) rotate(-90) scale(1 1.03)">uPAR Level</text>
<text class="ax" text-anchor="middle" transform="translate(1751.3 691.02) rotate(90) scale(1 1.03)">Scr Level</text>
<text class="tk" text-anchor="end" x="1541.4" y="634.24">5000</text>
<text class="tk" text-anchor="end" x="1541.4" y="683.57">4000</text>
<text class="tk" text-anchor="end" x="1541.4" y="732.9">3000</text>
<text class="tk" text-anchor="end" x="1541.4" y="782.24">2000</text>
<text class="tk" x="1717.5" y="599.34">400</text>
<text class="tk" x="1717.5" y="669.99">300</text>
<text class="tk" x="1717.5" y="740.64">200</text>
<text class="tk" text-anchor="middle" x="1570.1" y="815.5">pre</text>
<text class="tk" text-anchor="middle" x="1609.6" y="815.5">day0</text>
<text class="tk" text-anchor="middle" x="1648.9" y="815.5">day1</text>
<text class="tk" text-anchor="middle" x="1688.5" y="815.5">day2</text>
<path class="tm" d="M1541.7 629.1H1547.2M1541.7 678.43H1547.2M1541.7 727.77H1547.2M1541.7 777.1H1547.2M1712.4 594.2H1717.3M1712.4 664.85H1717.3M1712.4 735.5H1717.3M1570.1 799.3V804.7M1609.6 799.3V804.7M1648.9 799.3V804.7M1688.5 799.3V804.7"/>
<circle class="ps" cx="1570.1" cy="741.2" r="2.45"/>
<circle class="ps" cx="1609.6" cy="614.4" r="2.45"/>
<circle class="ps" cx="1648.9" cy="592.4" r="2.45"/>
<circle class="ps" cx="1688.5" cy="682.3" r="2.45"/>
<circle class="pd" cx="1570.1" cy="789.5" r="2.6"/>
<circle class="pd" cx="1609.6" cy="789.5" r="2.6"/>
<circle class="pd" cx="1648.9" cy="752.2" r="2.6"/>
<circle class="pd" cx="1688.5" cy="771.3" r="2.6"/>
<polyline class="dl" points="1570.1,789.5 1609.6,789.5 1648.9,752.2 1688.5,771.3"/>
<polyline class="sl" stroke="#2a2a2a" points="1570.1,741.2 1609.6,614.4 1648.9,592.4 1688.5,682.3"/>
<path class="axl" d="M1547.2 582.75V799.3H1712.4V582.75"/>
<text class="pp" text-anchor="middle" x="1618.4" y="660.3">p</text>
</g>
<text class="lg" x="581.9" y="878.7">Biomarkers:</text>
<path d="M720.1 870.4H802.2" stroke="#000" stroke-width="2" stroke-dasharray="9 9.2" fill="none"/>
<text class="lg" x="825.1" y="878.7">Scr</text>
<path d="M879.6 870.4H963" stroke="#000" stroke-width="2" fill="none"/>
<text class="lg" x="984.2" y="878.7">candidate biomarkers</text>
</svg></body></html>
